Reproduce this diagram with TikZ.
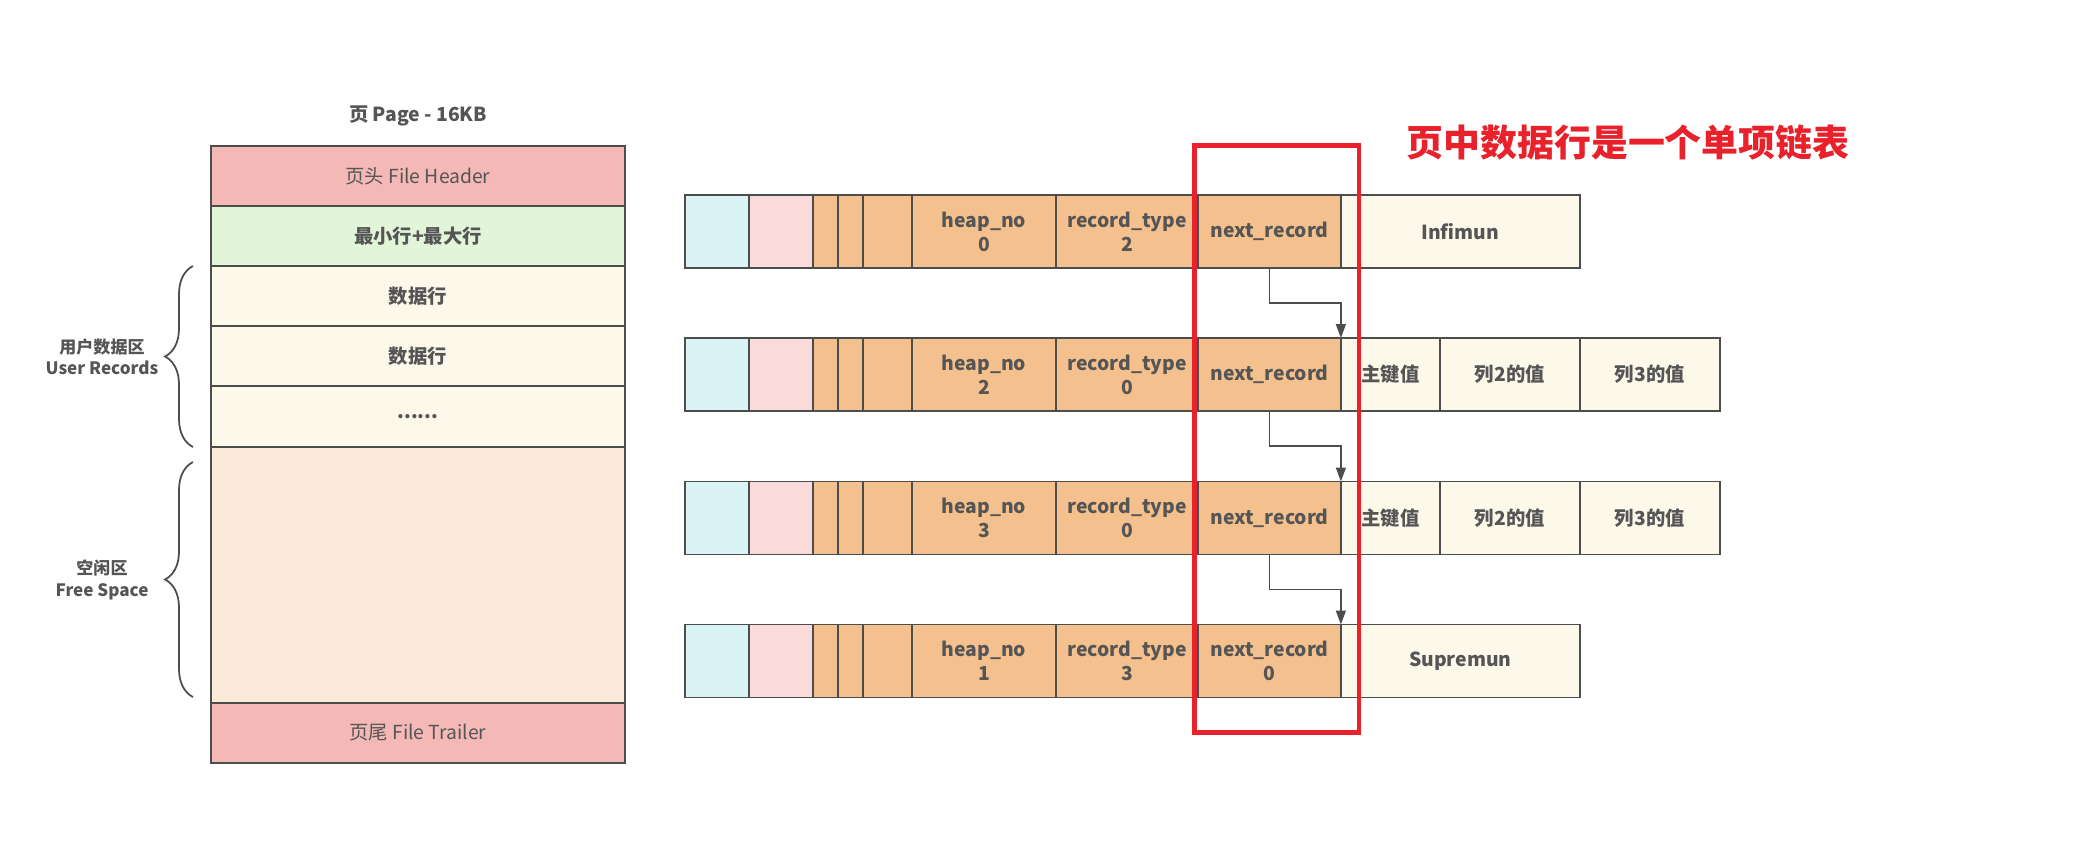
\documentclass[tikz,border=0pt]{standalone}
\usepackage{fontspec}
\setmainfont{Noto Sans CJK SC}
\usetikzlibrary{arrows.meta, calc, decorations.pathreplacing}
\definecolor{cline}{HTML}{4D4D4D}
\definecolor{ctext}{HTML}{555555}
\definecolor{chead}{HTML}{F4B8B7}
\definecolor{cgreen}{HTML}{E3F5D9}
\definecolor{ccream}{HTML}{FCF8EA}
\definecolor{cfree}{HTML}{FBE9D9}
\definecolor{ccyan}{HTML}{DAF4F6}
\definecolor{cpink}{HTML}{FADBDB}
\definecolor{corange}{HTML}{F4C18E}
\definecolor{cred}{HTML}{E8212B}
\tikzset{
  every picture/.style={line width=1.1pt, text=ctext},
  pagerow/.style={draw=cline, fill=#1, minimum width=8.28cm, anchor=north west, inner sep=0pt, outer sep=0pt, font=\fontsize{11pt}{13pt}\selectfont},
  cell/.style={draw=cline, fill=#1, minimum height=1.46cm, anchor=north west, inner sep=0pt, outer sep=0pt, align=center, font=\bfseries\fontsize{11pt}{13.7pt}\selectfont},
  cell/.default=corange,
  link/.style={-{Triangle[length=0.28cm, width=0.2cm]}, draw=cline, line width=0.9pt},
  sidebrace/.style={decorate, decoration={brace, amplitude=0.56cm}, draw=cline, line width=1pt},
  note/.style={font=\bfseries\fontsize{9.7pt}{12.1pt}\selectfont, align=center},
}

\begin{document}
\begin{tikzpicture}[x=0.02cm, y=-0.02cm]
  \useasboundingbox (0,0) rectangle (2080,842);
  \newcommand{\recrow}[5]{% name, top y, heap_no, record_type, next_record
    \node[cell=ccyan, minimum width=1.28cm] (#1a) at (685,#2) {};
    \node[cell=cpink, minimum width=1.28cm] (#1b) at (#1a.north east) {};
    \node[cell, minimum width=0.5cm] (#1c) at (#1b.north east) {};
    \node[cell, minimum width=0.5cm] (#1d) at (#1c.north east) {};
    \node[cell, minimum width=0.98cm] (#1e) at (#1d.north east) {};
    \node[cell, minimum width=2.88cm] (#1heap) at (#1e.north east) {heap\_no\\#3};
    \node[cell, minimum width=2.84cm] (#1type) at (#1heap.north east) {record\_type\\#4};
    \node[cell, minimum width=2.86cm] (#1next) at (#1type.north east) {#5};
  }
  \newcommand{\keyvals}[1]{% row name
    \node[cell=ccream, minimum width=1.98cm] (#1key) at (#1next.north east) {主键值};
    \node[cell=ccream, minimum width=2.8cm] (#1col2) at (#1key.north east) {列2的值};
    \node[cell=ccream, minimum width=2.8cm] (#1col3) at (#1col2.north east) {列3的值};
  }

  % page layout
  \node[font=\bfseries\fontsize{11pt}{12pt}\selectfont] (pagetitle) at (418,116) {页 Page - 16KB};
  \node[pagerow=chead, minimum height=1.2cm] (fhead) at (211,146) {页头 File Header};
  \node[pagerow=cgreen, minimum height=1.2cm, font=\bfseries\fontsize{11pt}{13pt}\selectfont] (minmax) at (fhead.south west) {最小行+最大行};
  \node[pagerow=ccream, minimum height=1.2cm, font=\bfseries\fontsize{11pt}{13pt}\selectfont] (data1) at (minmax.south west) {数据行};
  \node[pagerow=ccream, minimum height=1.2cm, font=\bfseries\fontsize{11pt}{13pt}\selectfont] (data2) at (data1.south west) {数据行};
  \node[pagerow=ccream, minimum height=1.22cm, font=\bfseries\fontsize{11pt}{13pt}\selectfont] (dots) at (data2.south west) {......};
  \node[pagerow=cfree, minimum height=5.12cm] (free) at (dots.south west) {};
  \node[pagerow=chead, minimum height=1.2cm] (ftrail) at (free.south west) {页尾 File Trailer};

  % braces
  \draw[sidebrace] (193,447) -- (193,266);
  \draw[sidebrace] (193,697) -- (193,462);
  \node[note] (userlbl) at (102,357) {用户数据区\\User Records};
  \node[note] (freelbl) at (102,580) {空闲区\\Free Space};

  % records
  \recrow{r1}{195}{0}{2}{next\_record}
  \node[cell=ccream, minimum width=4.78cm] (r1inf) at (r1next.north east) {Infimun};
  \recrow{r2}{338}{2}{0}{next\_record}
  \keyvals{r2}
  \recrow{r3}{481.5}{3}{0}{next\_record}
  \keyvals{r3}
  \recrow{r4}{624.5}{1}{3}{next\_record\\0}
  \node[cell=ccream, minimum width=4.78cm] (r4sup) at (r4next.north east) {Supremun};

  % links
  \draw[link] (r1next.south) |- ($(r1next.south)!0.5!(r2key.north west)$) -| (r2key.north west);
  \draw[link] (r2next.south) |- ($(r2next.south)!0.5!(r3key.north west)$) -| (r3key.north west);
  \draw[link] (r3next.south) |- ($(r3next.south)!0.5!(r4sup.north west)$) -| (r4sup.north west);

  % highlight
  \draw[cred, line width=2.7pt] (1194.5,145.5) rectangle (1359,732.5);
  \node[font=\bfseries\fontsize{21pt}{24pt}\selectfont, text=cred] (headline) at (1628,143) {页中数据行是一个单项链表};
\end{tikzpicture}
\end{document}
